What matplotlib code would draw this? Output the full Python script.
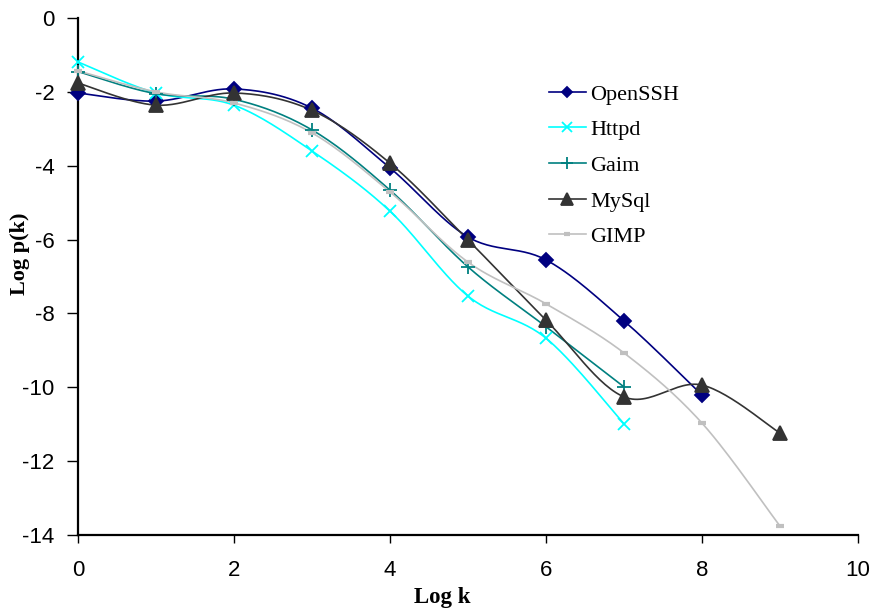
import numpy as np
import matplotlib
matplotlib.use("Agg")
import matplotlib.pyplot as plt
from matplotlib.lines import Line2D

plt.rcParams["axes.unicode_minus"] = False

# values (Log k vs Log p(k))
log_k = [0, 1, 2, 3, 4, 5, 6, 7, 8, 9]
openssh = [-2.03, -2.25, -1.92, -2.44, -4.06, -5.93, -6.55, -8.2, -10.21]
httpd = [-1.19, -2.03, -2.36, -3.6, -5.23, -7.53, -8.67, -10.99]
gaim = [-1.45, -2.05, -2.2, -3.03, -4.66, -6.74, -8.36, -9.99]
mysql = [-1.76, -2.36, -2.03, -2.5, -3.93, -6.01, -8.18, -10.26, -9.94, -11.24]
gimp = [-1.43, -2.0, -2.3, -3.11, -4.71, -6.61, -7.74, -9.07, -10.97, -13.76]

series = [
    ("OpenSSH", openssh, "#000080", "D", 7),
    ("Httpd", httpd, "#00FFFF", "x", 9),
    ("Gaim", gaim, "#008080", "+", 10),
    ("MySql", mysql, "#333333", "^", 10),
    ("GIMP", gimp, "#C0C0C0", "_", 6),
]


def smooth(x, y, n=30):
    # Excel-style smoothed line: cubic bezier with catmull-rom control points
    pts = np.column_stack([np.asarray(x, float), np.asarray(y, float)])
    out = [pts[0]]
    for i in range(len(pts) - 1):
        p0 = pts[i - 1] if i > 0 else pts[i]
        p1 = pts[i]
        p2 = pts[i + 1]
        p3 = pts[i + 2] if i + 2 < len(pts) else pts[i + 1]
        c1 = p1 + (p2 - p0) / 6.0
        c2 = p2 - (p3 - p1) / 6.0
        t = np.linspace(0, 1, n)[1:, None]
        seg = ((1 - t) ** 3) * p1 + 3 * ((1 - t) ** 2) * t * c1 + 3 * (1 - t) * t ** 2 * c2 + t ** 3 * p2
        out.extend(seg)
    out = np.array(out)
    return out[:, 0], out[:, 1]


fig = plt.figure(figsize=(8.75, 6.11), dpi=100)
ax = fig.add_axes([0.0891, 0.1244, 0.8915, 0.8461])

handles = []
for name, vals, color, marker, ms in series:
    xs = log_k[:len(vals)]
    sx, sy = smooth(xs, vals)
    ax.plot(sx, sy, color=color, lw=1.2, zorder=2)
    mew = 3 if marker == "_" else 1.3
    ax.plot(xs, vals, ls="none", marker=marker, ms=ms, color=color,
            mec=color, mew=mew, zorder=3, clip_on=False)
    handles.append(Line2D([], [], color=color, lw=1.2, marker=marker, ms=ms * 0.8,
                          mec=color, mew=mew))

ax.set_xlim(0, 10)
ax.set_ylim(-14, 0)
ax.set_xticks(range(0, 11, 2))
ax.set_yticks(range(-14, 1, 2))
for s in ["top", "right"]:
    ax.spines[s].set_visible(False)
for s in ["left", "bottom"]:
    ax.spines[s].set_linewidth(1.6)
ax.tick_params(axis="x", direction="out", length=6, width=1, labelsize=16, pad=12)
ax.tick_params(axis="y", direction="out", length=8, width=1, labelsize=16, pad=9)
for lbl in ax.get_xticklabels() + ax.get_yticklabels():
    lbl.set_family("Liberation Sans")

ax.set_xlabel("Log k", family="Liberation Serif", fontweight="bold", fontsize=16.5)
ax.set_ylabel("Log p(k)", family="Liberation Serif", fontweight="bold", fontsize=16)
ax.xaxis.set_label_coords(0.467, -0.10)
ax.yaxis.set_label_coords(-0.0615, 0.5445)

ax.legend(handles, [s[0] for s in series], loc="upper left",
          bbox_to_anchor=(0.578, 0.911), frameon=False,
          prop={"family": "Liberation Serif", "size": 16},
          handlelength=1.67, handletextpad=0.2, labelspacing=0.68)

fig.savefig("out.png", dpi=100)
